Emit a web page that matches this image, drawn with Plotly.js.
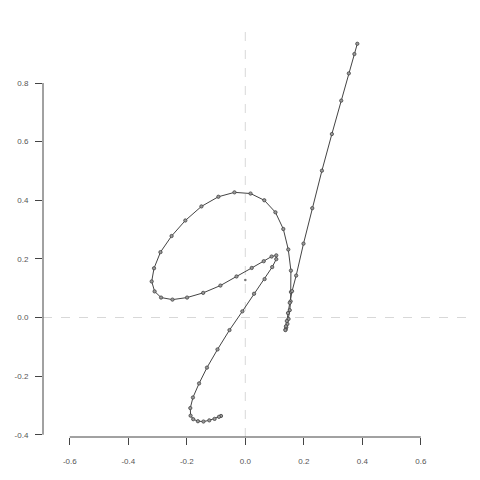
<!DOCTYPE html>
<html>
<head>
<meta charset="utf-8">
<script src="https://cdn.plot.ly/plotly-3.0.1.min.js"></script>
<style>html,body{margin:0;padding:0;background:#fff;}#chart{width:480px;height:480px;}</style>
</head>
<body>
<div id="chart"></div>
<script>
// Path coordinates (in drawing order)
const pathX = [-0.083,-0.090,-0.105,-0.123,-0.143,-0.162,-0.178,-0.187,-0.188,-0.179,-0.158,-0.131,-0.095,-0.054,-0.010,0.030,0.066,0.092,0.106,0.106,
  0.090,0.063,0.022,-0.030,-0.085,-0.144,-0.199,-0.249,-0.288,-0.310,-0.320,-0.312,-0.290,-0.252,-0.205,-0.150,-0.092,-0.037,0.018,0.065,0.103,0.130,0.147,0.156,0.156,0.155,0.152,0.148,0.144,0.140,0.138,0.137,
  0.139,0.142,0.146,0.152,0.160,0.174,0.199,0.229,0.262,0.296,0.328,0.354,0.373,0.383];
const pathY = [-0.336,-0.339,-0.346,-0.351,-0.355,-0.354,-0.347,-0.335,-0.309,-0.273,-0.225,-0.171,-0.109,-0.043,0.021,0.081,0.131,0.172,0.199,0.212,
  0.208,0.192,0.169,0.140,0.109,0.084,0.068,0.061,0.068,0.089,0.123,0.168,0.223,0.278,0.331,0.379,0.412,0.427,0.423,0.400,0.359,0.302,0.232,0.160,0.087,0.055,0.025,-0.005,-0.022,-0.034,-0.041,-0.043,
  -0.030,-0.012,0.015,0.050,0.090,0.143,0.252,0.373,0.501,0.626,0.740,0.833,0.899,0.934];
const centerX = [0.0];
const centerY = [0.128];

const xTicks = [-0.6,-0.4,-0.2,0.0,0.2,0.4,0.6];
const xTickText = ["-0.6","-0.4","-0.2","0.0","0.2","0.4","0.6"];
const yTicks = [-0.4,-0.2,0.0,0.2,0.4,0.6,0.8];
const yTickText = ["-0.4","-0.2","0.0","0.2","0.4","0.6","0.8"];

const axisCol = '#444';
const tickFont = {family: 'Liberation Sans, Arial, sans-serif', size: 8, color: '#555'};

const traces = [
  {x: pathX, y: pathY, type: 'scatter', mode: 'lines+markers',
   line: {color: '#444', width: 1},
   marker: {symbol: 'circle', size: 3.3, color: '#999', line: {color: '#444', width: 0.8}},
   hoverinfo: 'skip'},
  {x: centerX, y: centerY, type: 'scatter', mode: 'markers',
   marker: {symbol: 'circle', size: 2.5, color: '#777', line: {width: 0}},
   hoverinfo: 'skip'}
];

const layout = {
  width: 480, height: 480,
  margin: {l: 43, r: 13, t: 30, b: 43},
  paper_bgcolor: '#fff', plot_bgcolor: '#fff',
  showlegend: false,
  xaxis: {range: [-0.6916, 0.758], showgrid: false, zeroline: false, showline: false,
    tickmode: 'array', tickvals: xTicks, ticktext: xTickText,
    ticks: 'outside', ticklen: 7, tickwidth: 1, tickcolor: axisCol,
    tickfont: tickFont, ticklabelstandoff: 9},
  yaxis: {range: [-0.4078, 0.981], showgrid: false, zeroline: false, showline: false,
    tickmode: 'array', tickvals: yTicks, ticktext: yTickText,
    ticks: 'outside', ticklen: 7, tickwidth: 1, tickcolor: axisCol,
    tickfont: tickFont, ticklabelstandoff: 5},
  shapes: [
    {type: 'line', xref: 'paper', yref: 'y', x0: 0, x1: 1, y0: 0, y1: 0,
     line: {color: '#d8d8d8', width: 1, dash: 'dash'}, layer: 'below'},
    {type: 'line', xref: 'x', yref: 'paper', x0: 0, x1: 0, y0: 0, y1: 1,
     line: {color: '#d8d8d8', width: 1, dash: 'dash'}, layer: 'below'},
    {type: 'line', xref: 'x', yref: 'paper', x0: xTicks[0], x1: xTicks[xTicks.length-1], y0: 0, y1: 0,
     line: {color: axisCol, width: 1}},
    {type: 'line', xref: 'paper', yref: 'y', x0: 0, x1: 0, y0: yTicks[0], y1: yTicks[yTicks.length-1],
     line: {color: axisCol, width: 1}}
  ]
};

Plotly.newPlot('chart', traces, layout, {displayModeBar: false, staticPlot: true});
</script>
</body>
</html>
